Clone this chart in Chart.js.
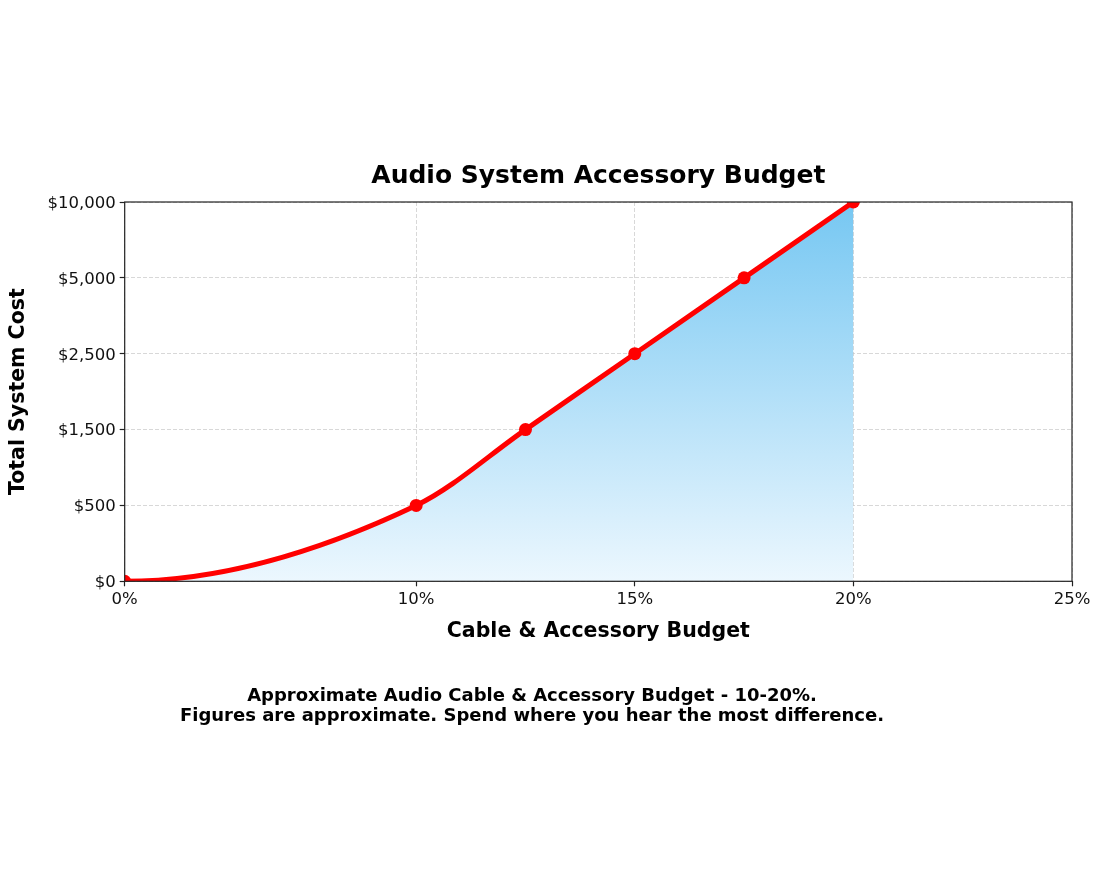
<!DOCTYPE html>
<html>
<head>
    <title>Audio System Accessory Budget</title>
    <script src="https://cdn.jsdelivr.net/npm/chart.js"></script>
    <style>
        body { margin: 0; background: #fff; font-family: 'DejaVu Sans', sans-serif; }
        .wrap { position: relative; width: 1100px; height: 890px; }
        .caption { position: absolute; left: 0; width: 1064px; top: 685px; text-align: center;
                   font-weight: bold; font-size: 18px; line-height: 20px; color: #000; }
    </style>
</head>
<body>
    <div class="wrap">
        <canvas id="budgetChart" width="1100" height="890"></canvas>
        <div class="caption">
            Approximate Audio Cable &amp; Accessory Budget - 10-20%.<br>
            Figures are approximate. Spend where you hear the most difference.
        </div>
    </div>

    <script>
        // ===== DATA =====
        const budgetPct = [0, 10, 12.5, 15, 17.5, 20];
        const systemCost = [0, 500, 1500, 2500, 5000, 10000];
        const xTickValues = [0, 10, 15, 20, 25];
        const yTickValues = [0, 500, 1500, 2500, 5000, 10000];

        // ===== PIECEWISE AXIS (ticks not evenly spaced in value) =====
        class PiecewiseScale extends Chart.LinearScale {
            buildTicks() {
                const b = this.options.breaks;
                this.min = b[0];
                this.max = b[b.length - 1];
                return b.map(v => ({ value: v }));
            }
            _units(v) {
                const b = this.options.breaks, w = this.options.spans;
                let u = 0;
                for (let i = 0; i < b.length - 1; i++) {
                    if (v <= b[i + 1] || i === b.length - 2) {
                        return u + w[i] * (v - b[i]) / (b[i + 1] - b[i]);
                    }
                    u += w[i];
                }
                return u;
            }
            _total() { return this.options.spans.reduce((a, c) => a + c, 0); }
            getPixelForValue(v) {
                return this.getPixelForDecimal(this._units(v) / this._total());
            }
            getValueForPixel(p) {
                let u = this.getDecimalForPixel(p) * this._total();
                const b = this.options.breaks, w = this.options.spans;
                for (let i = 0; i < w.length; i++) {
                    if (u <= w[i] || i === w.length - 1) return b[i] + (b[i + 1] - b[i]) * u / w[i];
                    u -= w[i];
                }
            }
        }
        PiecewiseScale.id = 'piecewise';
        PiecewiseScale.defaults = {};
        Chart.register(PiecewiseScale);

        const FONT = "'DejaVu Sans', sans-serif";

        // curve leaves the first point flat, like the original spline
        const flatStart = {
            id: 'flatStart',
            beforeDatasetsDraw(chart) {
                const meta = chart.getDatasetMeta(0);
                meta.dataset.updateControlPoints(chart.chartArea, 'x');
                const p0 = meta.data[0], p1 = meta.data[1];
                p0.cp2x = p0.x + (p1.x - p0.x) / 3;
                p0.cp2y = p0.y;
            }
        };

        // titles, frame
        const decor = {
            id: 'decor',
            afterDraw(chart) {
                const { ctx, chartArea: a } = chart;
                ctx.save();
                ctx.strokeStyle = '#222';
                ctx.lineWidth = 1.2;
                ctx.strokeRect(a.left, a.top, a.right - a.left, a.bottom - a.top);
                ctx.fillStyle = '#000';
                ctx.textAlign = 'center';
                ctx.textBaseline = 'middle';
                const cx = (a.left + a.right) / 2;
                ctx.font = 'bold 25px ' + FONT;
                ctx.fillText('Audio System Accessory Budget', cx, 176);
                ctx.font = 'bold 20.5px ' + FONT;
                ctx.fillText('Cable & Accessory Budget', cx, 632);
                ctx.translate(18.5, (a.top + a.bottom) / 2);
                ctx.rotate(-Math.PI / 2);
                ctx.fillText('Total System Cost', 0, 0);
                ctx.restore();
            }
        };

        const ctx = document.getElementById('budgetChart').getContext('2d');

        new Chart(ctx, {
            type: 'line',
            data: {
                datasets: [{
                    data: budgetPct.map((x, i) => ({ x: x, y: systemCost[i] })),
                    borderColor: '#ff0000',
                    borderWidth: 5,
                    pointRadius: 6.5,
                    pointBackgroundColor: '#ff0000',
                    pointBorderWidth: 0,
                    cubicInterpolationMode: 'monotone',
                    clip: 0,
                    fill: 'origin',
                    backgroundColor: (c) => {
                        const a = c.chart.chartArea;
                        if (!a) return 'rgba(120,200,240,0.5)';
                        const g = c.chart.ctx.createLinearGradient(0, a.top, 0, a.bottom);
                        g.addColorStop(0, 'rgb(118,199,242)');
                        g.addColorStop(1, 'rgb(236,247,254)');
                        return g;
                    }
                }]
            },
            options: {
                responsive: false,
                animation: false,
                layout: { padding: { left: 0, right: 28, top: 202, bottom: 0 } },
                plugins: {
                    legend: { display: false },
                    tooltip: { enabled: false },
                    title: { display: false }
                },
                scales: {
                    x: {
                        type: 'piecewise',
                        breaks: xTickValues,
                        spans: [4 / 3, 1, 1, 1],
                        afterFit: (s) => { s.height = 890 - 581.3; },
                        grid: { color: 'rgba(195,195,195,0.65)', lineWidth: 1, tickColor: '#222', tickLength: 5, tickWidth: 1.2 },
                        border: { display: false, dash: [4, 2] },
                        ticks: {
                            color: '#111', font: { family: FONT, size: 16.5 }, padding: 4,
                            maxRotation: 0, autoSkip: false,
                            callback: (v) => v + '%'
                        }
                    },
                    y: {
                        type: 'piecewise',
                        breaks: yTickValues,
                        spans: yTickValues.slice(1).map(() => 1),
                        afterFit: (s) => { s.width = 124.7; },
                        grid: { color: 'rgba(195,195,195,0.65)', lineWidth: 1, tickColor: '#222', tickLength: 5, tickWidth: 1.2 },
                        border: { display: false, dash: [4, 2] },
                        ticks: {
                            color: '#111', font: { family: FONT, size: 16.5 }, padding: 4,
                            autoSkip: false, labelOffset: 1.5,
                            callback: (v) => '$' + v.toLocaleString('en-US')
                        }
                    }
                }
            },
            plugins: [flatStart, decor]
        });
    </script>
</body>
</html>
